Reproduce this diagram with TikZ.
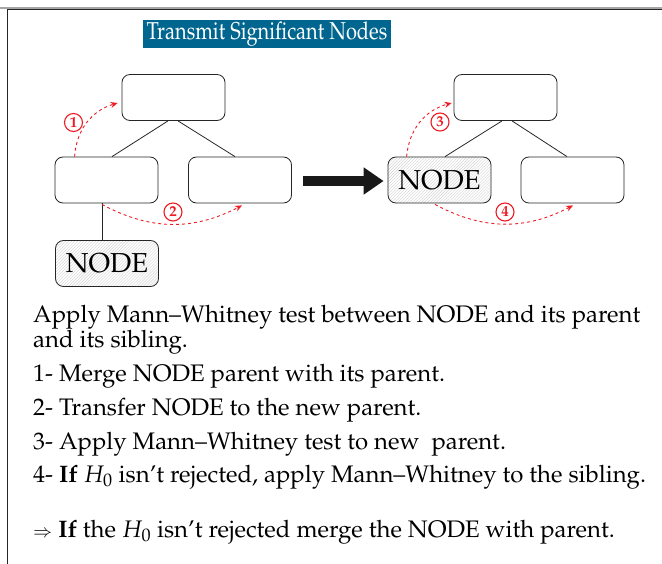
\documentclass[tikz,border=0pt]{standalone}
\usepackage[T1]{fontenc}
\usepackage{mathpazo}
\usetikzlibrary{arrows.meta,patterns,calc}
\definecolor{titleblue}{RGB}{0,102,143}
\definecolor{arrred}{RGB}{237,28,36}
\begin{document}
\begin{tikzpicture}[x=1bp,y=-1bp,
 box/.style={draw=black!85, line width=0.8bp, rounded corners=8bp, minimum width=103bp, minimum height=46bp, inner sep=0pt, font=\fontsize{27.5}{27.5}\selectfont},
 hatched/.style={box, pattern=north east lines, pattern color=black!18},
 edge/.style={draw=black!85, line width=0.8bp},
 redarr/.style={draw=arrred, dashed, line width=0.9bp, -{Stealth[length=7bp,width=6bp]}},
 num/.style={circle, draw=arrred, fill=white, text=arrred, line width=1.1bp, inner sep=0pt, minimum size=18bp, font=\bfseries\fontsize{15}{15}\selectfont},
 body/.style={anchor=base west, inner sep=0pt, font=\fontsize{24}{24}\selectfont},
 bigarrow/.style={draw=black!90, line width=9bp, -{Triangle[length=20bp,width=26bp]}}
]
\useasboundingbox (0,0) rectangle (662,564);
% frame
\draw[black!35, line width=1.2bp] (0,8) -- (662,8);
\draw[black!85, line width=1.5bp] (662,9.5) -- (7.5,9.5) -- (7.5,564);
% title
\node[fill=titleblue, text=white, minimum width=248bp, minimum height=28bp, inner sep=0pt] (title) at (267,34) {\scalebox{0.82}[1]{\fontsize{24.5}{24.5}\selectfont Transmit Significant Nodes}};
% left tree
\node[box] (ltop) at (173.5,97.5) {};
\node[box] (lleft) at (106.5,180) {};
\node[box] (lright) at (240,180) {};
\node[hatched] (lnode) at (107,263.5) {NODE};
\draw[edge] ($(ltop.south)+(-5.5,0)$) -- ($(lleft.north)+(5.5,0)$);
\draw[edge] ($(ltop.south)+(4.5,0)$) -- ($(lright.north)+(-5,0)$);
\draw[edge] ($(lleft.south)+(-4.5,0)$) coordinate (e1) -- (e1 |- lnode.north);
% right tree
\node[box] (rtop) at (505.5,97.5) {};
\node[hatched] (rnode) at (439.5,180) {NODE};
\node[box] (rright) at (572.5,180) {};
\draw[edge] ($(rtop.south)+(-3.5,0)$) -- ($(rnode.north)+(5.5,0)$);
\draw[edge] ($(rtop.south)+(6.5,0)$) -- ($(rright.north)+(-5.5,0)$);
% big arrow
\coordinate (bigs) at (303,181);
\draw[bigarrow] (bigs) -- ($(rnode.west)+(-4,1)$);
% red arrows
\draw[redarr] ($(lleft.north west)+(20,0)$) to[bend left=35] ($(ltop.west)+(-4,5.5)$);
\draw[redarr] ($(lleft.south)+(-4.5,1)$) to[bend right=28] ($(lright.south)+(2,2)$);
\draw[redarr] ($(rnode.north west)+(19,0)$) to[bend left=35] ($(rtop.west)+(-2,5.5)$);
\draw[redarr] ($(rnode.south)+(-4.5,1)$) to[bend right=28] ($(rright.south)+(0.5,2)$);
\node[num] (n1) at (73.5,122.5) {1};
\node[num] (n2) at (173,212) {2};
\node[num] (n3) at (440,122) {3};
\node[num] (n4) at (505,212) {4};
% text
\node[body] (t1) at (33,322) {Apply Mann--Whitney test between NODE and its parent};
\node[body] (t2) at (33,347) {and its sibling.};
\node[body] (t3) at (33,381) {1- Merge NODE parent with its parent.};
\node[body] (t4) at (33,415) {2- Transfer NODE to the new parent.};
\node[body] (t5) at (33,449) {3- Apply Mann--Whitney test to new\ \ parent.};
\node[body] (t6) at (33,482) {4- \textbf{If} $H_0$ isn't rejected, apply Mann--Whitney to the sibling.};
\node[body] (t7) at (33,537) {{\fontsize{18}{18}\selectfont$\Rightarrow$}\ \textbf{If} the $H_0$ isn't rejected merge the NODE with parent.};
\end{tikzpicture}
\end{document}
